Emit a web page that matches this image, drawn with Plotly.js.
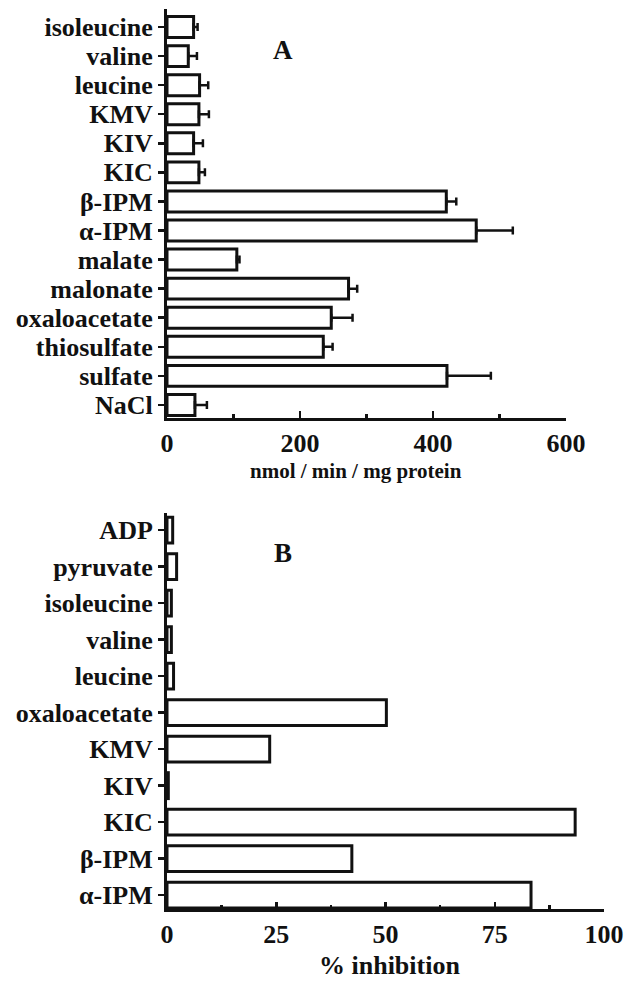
<!DOCTYPE html>
<html>
<head>
<meta charset="utf-8">
<script src="https://cdn.plot.ly/plotly-3.0.1.min.js"></script>
<style>html,body{margin:0;padding:0;background:#fff;}#chart{width:634px;height:982px;}</style>
</head>
<body>
<div id="chart"></div>
<script>
// Panel A: activity (bottom to top)
const catsA = ["NaCl","sulfate","thiosulfate","oxaloacetate","malonate","malate","α-IPM","β-IPM","KIC","KIV","KMV","leucine","valine","isoleucine"];
const valsA = [42, 421, 235, 247, 273, 105, 465, 420, 48, 40, 48, 49, 32, 40];
const errA  = [18, 66, 14, 32, 13, 4, 55, 15, 9, 14, 15, 13, 13, 6];
const ticksA = [0, 200, 400, 600];

// Panel B: % inhibition (bottom to top)
const catsB = ["α-IPM","β-IPM","KIC","KIV","KMV","oxaloacetate","leucine","valine","isoleucine","pyruvate","ADP"];
const valsB = [83.3, 42.3, 93.4, 0.3, 23.5, 50.2, 1.5, 1.0, 1.0, 2.2, 1.3];
const ticksB = [0, 25, 50, 75, 100];

const FONT = "Liberation Serif, Times New Roman, serif";
const INK = "#111";

const barStyle = {color: "#fff", line: {color: INK, width: 3}};

const traces = [
  {
    type: "bar", orientation: "h", x: valsA, y: catsA,
    xaxis: "x", yaxis: "y", width: 0.72,
    marker: barStyle,
    error_x: {type: "data", array: errA, arrayminus: errA.map(() => 0), symmetric: false,
              color: INK, thickness: 2.5, width: 4},
    hoverinfo: "skip"
  },
  {
    type: "bar", orientation: "h", x: valsB, y: catsB,
    xaxis: "x2", yaxis: "y2", width: 0.71,
    marker: barStyle,
    hoverinfo: "skip"
  }
];

const W = 634, H = 982;
const fx = p => p / W;
const fy = p => (H - p) / H;

const axBase = {
  showgrid: false, zeroline: false, showline: true,
  linecolor: INK, linewidth: 3,
  tickcolor: INK, tickwidth: 2.5,
  tickfont: {family: FONT, size: 26, color: INK, weight: "bold"},
  fixedrange: true
};

const layout = {
  width: W, height: H,
  margin: {l: 0, r: 0, t: 0, b: 0},
  paper_bgcolor: "#fff", plot_bgcolor: "#fff",
  showlegend: false,
  xaxis: Object.assign({}, axBase, {
    domain: [fx(167), fx(566)], anchor: "y",
    range: [0, 600], tickmode: "array", tickvals: ticksA, ticktext: ticksA.map(String),
    ticks: "inside", ticklen: 7,
    minor: {tickvals: [100, 300, 500], ticks: "inside", ticklen: 4, tickwidth: 2.5, tickcolor: INK}
  }),
  yaxis: Object.assign({}, axBase, {
    domain: [fy(418), fy(9)], anchor: "x",
    type: "category", categoryorder: "array", categoryarray: catsA,
    tickmode: "array", tickvals: catsA, ticktext: catsA,
    range: [-0.45, 13.62],
    ticks: "outside", ticklen: 6, ticklabelstandoff: 0
  }),
  xaxis2: Object.assign({}, axBase, {
    domain: [fx(167), fx(604)], anchor: "y2",
    range: [0, 100], tickmode: "array", tickvals: ticksB, ticktext: ticksB.map(String),
    ticks: "inside", ticklen: 7,
    minor: {tickvals: [12.5, 37.5, 62.5, 87.5], ticks: "inside", ticklen: 4, tickwidth: 2.5, tickcolor: INK}
  }),
  yaxis2: Object.assign({}, axBase, {
    domain: [fy(909), fy(513)], anchor: "x2",
    type: "category", categoryorder: "array", categoryarray: catsB,
    tickmode: "array", tickvals: catsB, ticktext: catsB,
    range: [-0.38, 10.47],
    ticks: "outside", ticklen: 6, ticklabelstandoff: 0
  }),
  annotations: [
    {text: "A", xref: "paper", yref: "paper", x: fx(283), y: fy(50), xanchor: "center", yanchor: "middle", showarrow: false,
     font: {family: FONT, size: 27, color: INK, weight: "bold"}},
    {text: "B", xref: "paper", yref: "paper", x: fx(283), y: fy(553), xanchor: "center", yanchor: "middle", showarrow: false,
     font: {family: FONT, size: 27, color: INK, weight: "bold"}},
    {text: "nmol / min / mg protein", xref: "paper", yref: "paper", x: fx(356), y: fy(471), xanchor: "center", yanchor: "middle", showarrow: false,
     font: {family: FONT, size: 21, color: INK, weight: "bold"}},
    {text: "% inhibition", xref: "paper", yref: "paper", x: fx(390), y: fy(965), xanchor: "center", yanchor: "middle", showarrow: false,
     font: {family: FONT, size: 26, color: INK, weight: "bold"}}
  ]
};

Plotly.newPlot("chart", traces, layout, {staticPlot: true, displayModeBar: false});
</script>
</body>
</html>
